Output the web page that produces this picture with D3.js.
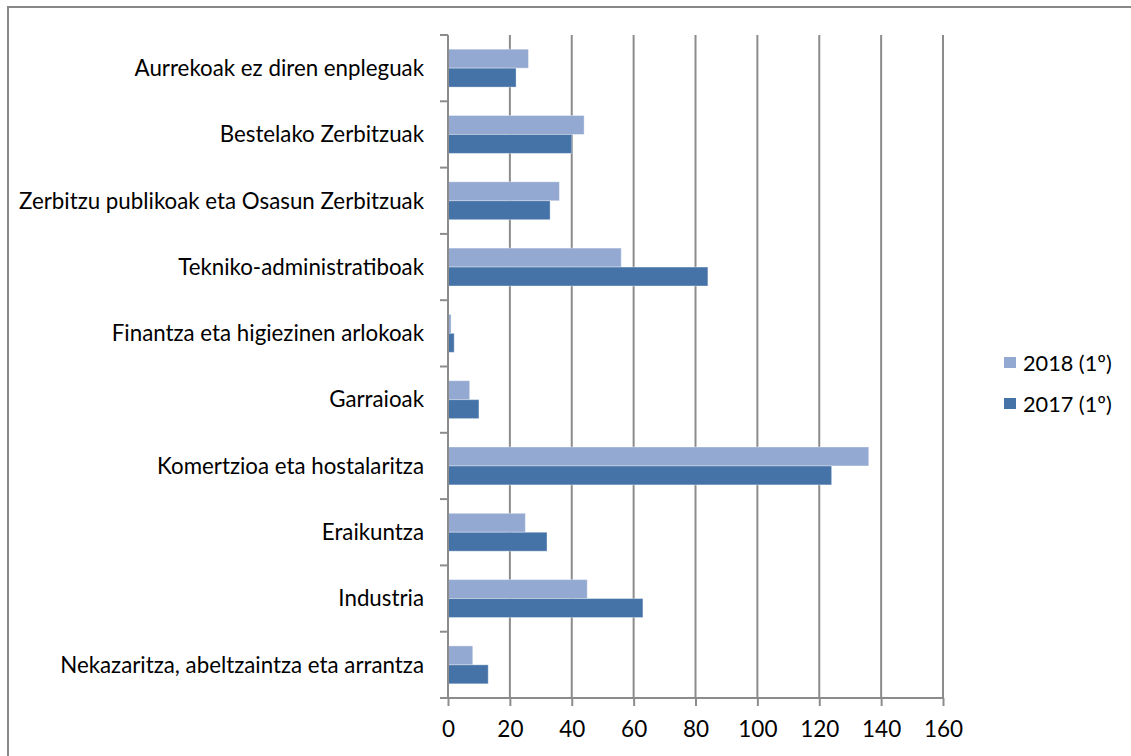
<!DOCTYPE html>
<html lang="eu">
<head>
	<meta charset="UTF-8">
	<title>Kontratuak jarduera-sektorearen arabera</title>
	<script src="https://cdn.jsdelivr.net/npm/d3@7"></script>
	<style type="text/css">
		html, body { margin: 0; padding: 0; background: #fff; }
		svg { display: block; }
		text { font-family: Lato, "Open Sans", sans-serif; fill: #000; }
		.grid line { stroke: #8c8c8c; stroke-width: 2; }
		.axis path, .axis line { stroke: #8c8c8c; stroke-width: 2; }
	</style>
</head>
<body>

<script type="text/javascript">
	var categories = [
		'Aurrekoak ez diren enpleguak',
		'Bestelako Zerbitzuak',
		'Zerbitzu publikoak eta Osasun Zerbitzuak',
		'Tekniko-administratiboak',
		'Finantza eta higiezinen arlokoak',
		'Garraioak',
		'Komertzioa eta hostalaritza',
		'Eraikuntza',
		'Industria',
		'Nekazaritza, abeltzaintza eta arrantza'
	];
	var seriesNames = ['2018 (1º)', '2017 (1º)'];
	var values2018 = [26, 44, 36, 56, 1, 7, 136, 25, 45, 8];
	var values2017 = [22, 40, 33, 84, 2, 10, 124, 32, 63, 13];
	var xTicks = [0, 20, 40, 60, 80, 100, 120, 140, 160];

	window.onload = function () {
		var W = 1131, H = 756;
		var margin = {top: 35, left: 448, bottom: 58, right: 188};
		var width = W - margin.left - margin.right;
		var height = H - margin.top - margin.bottom;

		var colors = ['#94a9d1', '#4572a7'];
		var series = [values2018, values2017];

		var svg = d3.select('body').append('svg')
			.attr('width', W)
			.attr('height', H);

		// outer frame (runs off the right and bottom)
		svg.append('rect')
			.attr('x', 8).attr('y', 7)
			.attr('width', W + 20).attr('height', H + 20)
			.style('fill', 'none')
			.style('stroke', '#888')
			.style('stroke-width', 2);

		var g = svg.append('g')
			.attr('transform', 'translate(' + margin.left + ',' + margin.top + ')');

		var x = d3.scaleLinear()
			.domain([0, 160])
			.range([0, width]);

		var y = d3.scaleBand()
			.domain(categories)
			.range([0, height]);

		var ySub = d3.scaleBand()
			.domain(seriesNames)
			.range([0, y.bandwidth()])
			.paddingOuter(0.75)
			.paddingInner(0);

		// vertical gridlines
		g.append('g').attr('class', 'grid')
			.selectAll('line')
			.data(xTicks.slice(1))
			.enter().append('line')
			.attr('x1', function (d) { return x(d); })
			.attr('x2', function (d) { return x(d); })
			.attr('y1', 0)
			.attr('y2', height);

		// bars
		seriesNames.forEach(function (name, si) {
			g.append('g').selectAll('rect')
				.data(series[si])
				.enter().append('rect')
				.attr('x', 0)
				.attr('y', function (d, i) { return y(categories[i]) + ySub(name); })
				.attr('width', function (d) { return x(d); })
				.attr('height', ySub.bandwidth())
				.style('fill', colors[si])
				.style('stroke', 'rgba(255,255,255,0.35)')
				.style('stroke-width', 1);
		});

		// x axis
		var xAxis = g.append('g').attr('class', 'axis')
			.attr('transform', 'translate(0,' + height + ')')
			.call(d3.axisBottom(x).tickValues(xTicks).tickSize(8).tickSizeOuter(0));
		xAxis.select('.domain').attr('d', 'M-8,0H' + width);
		xAxis.selectAll('text')
			.attr('dy', 0)
			.attr('y', 39)
			.style('font-size', '22.5px');

		// y axis: ticks between categories
		var yAxis = g.append('g').attr('class', 'axis');
		yAxis.append('line')
			.attr('x1', 0).attr('x2', 0)
			.attr('y1', 0).attr('y2', height);
		yAxis.selectAll('.sep')
			.data(categories.map(function (c) { return y(c); }).concat([height]))
			.enter().append('line')
			.attr('class', 'sep')
			.attr('x1', -8).attr('x2', 0)
			.attr('y1', function (d) { return d; })
			.attr('y2', function (d) { return d; });
		yAxis.selectAll('.lbl')
			.data(categories)
			.enter().append('text')
			.attr('class', 'lbl')
			.attr('x', -24)
			.attr('y', function (d) { return y(d) + y.bandwidth() / 2; })
			.attr('dy', '0.35em')
			.attr('text-anchor', 'end')
			.style('font-size', '22.3px')
			.text(function (d) { return d; });

		// legend
		var legend = svg.append('g')
			.attr('transform', 'translate(1004,357)');
		seriesNames.forEach(function (name, i) {
			var row = legend.append('g')
				.attr('transform', 'translate(0,' + (i * 41) + ')');
			row.append('rect')
				.attr('width', 12).attr('height', 11)
				.style('fill', colors[i]);
			row.append('text')
				.attr('x', 19).attr('y', 6)
				.attr('dy', '0.35em')
				.style('font-size', '21.7px')
				.text(name);
		});
	};
</script>

</body>
</html>
